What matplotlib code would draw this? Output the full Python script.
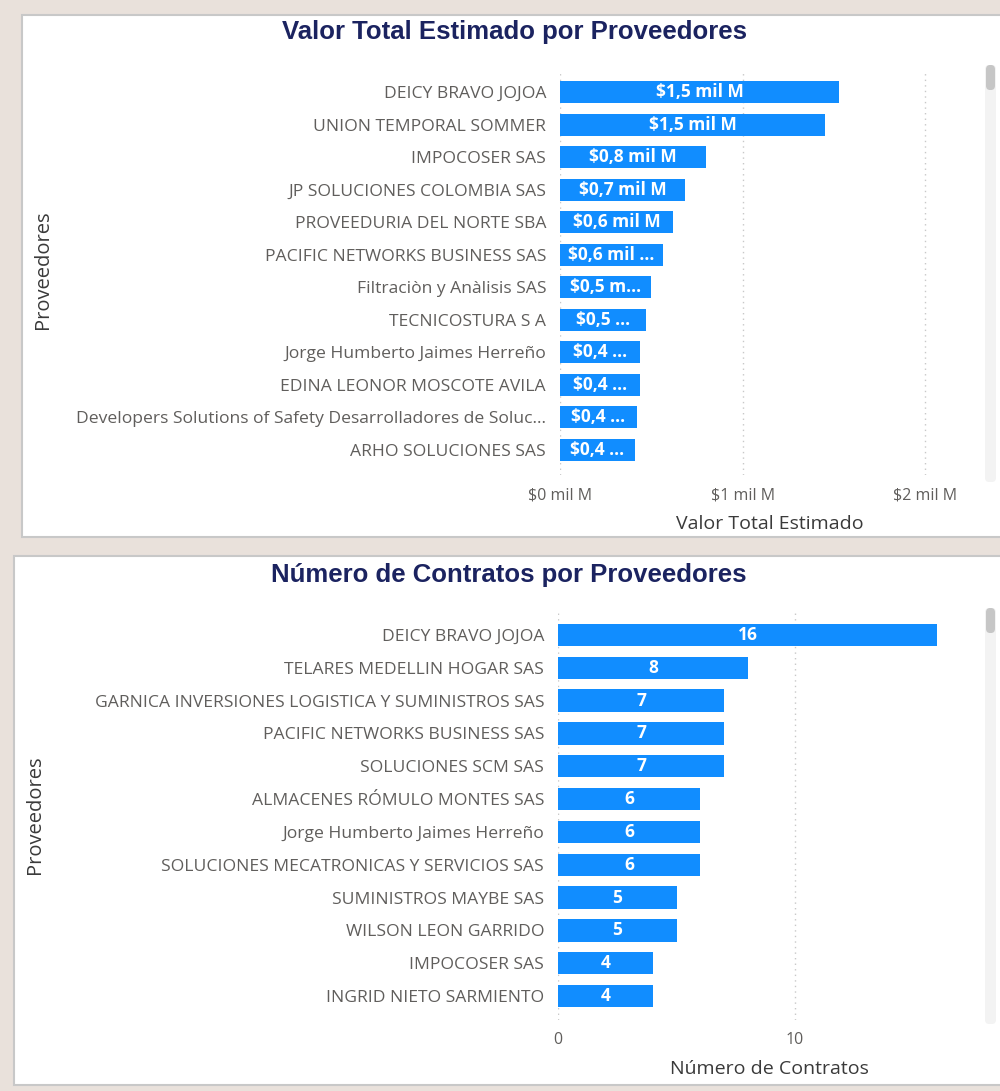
# -*- coding: utf-8 -*-
# Dos gráficos de barras horizontales estilo Power BI
import matplotlib.pyplot as plt
from matplotlib.patches import Rectangle, FancyBboxPatch

# Datos del primer gráfico (valor en miles de millones)
proveedoresValor = ['DEICY BRAVO JOJOA', 'UNION TEMPORAL SOMMER', 'IMPOCOSER SAS',
                    'JP SOLUCIONES COLOMBIA SAS', 'PROVEEDURIA DEL NORTE SBA',
                    'PACIFIC NETWORKS BUSINESS SAS', 'Filtraciòn y Anàlisis SAS',
                    'TECNICOSTURA S A', 'Jorge Humberto Jaimes Herreño',
                    'EDINA LEONOR MOSCOTE AVILA',
                    'Developers Solutions of Safety Desarrolladores de Soluc...',
                    'ARHO SOLUCIONES SAS']
valorTotal = [1.53, 1.45, 0.80, 0.685, 0.62, 0.565, 0.50, 0.47, 0.44, 0.44, 0.42, 0.41]
etiquetasValor = ['$1,5 mil M', '$1,5 mil M', '$0,8 mil M', '$0,7 mil M', '$0,6 mil M',
                  '$0,6 mil ...', '$0,5 m...', '$0,5 ...', '$0,4 ...', '$0,4 ...',
                  '$0,4 ...', '$0,4 ...']
ticksValor = [0, 1, 2]
ticksValorTxt = ['$0 mil M', '$1 mil M', '$2 mil M']

# Datos del segundo gráfico
proveedoresNum = ['DEICY BRAVO JOJOA', 'TELARES MEDELLIN HOGAR SAS',
                  'GARNICA INVERSIONES LOGISTICA Y SUMINISTROS SAS',
                  'PACIFIC NETWORKS BUSINESS SAS', 'SOLUCIONES SCM SAS',
                  'ALMACENES RÓMULO MONTES SAS', 'Jorge Humberto Jaimes Herreño',
                  'SOLUCIONES MECATRONICAS Y SERVICIOS SAS', 'SUMINISTROS MAYBE SAS',
                  'WILSON LEON GARRIDO', 'IMPOCOSER SAS', 'INGRID NIETO SARMIENTO']
numContratos = [16, 8, 7, 7, 7, 6, 6, 6, 5, 5, 4, 4]
ticksNum = [0, 10]

W, H = 1000, 1091
AZUL = '#118dff'
GRIS = '#605e5c'
TITULO = '#1b2360'
FUENTE = ['Open Sans', 'DejaVu Sans']

fig = plt.figure(figsize=(W / 100, H / 100), dpi=100)
fig.patch.set_facecolor('#e9e1db')


def caja(x0, y0, x1, y1, **kw):
    # rectángulo en píxeles (origen arriba a la izquierda)
    return Rectangle((x0 / W, 1 - y1 / H), (x1 - x0) / W, (y1 - y0) / H,
                     transform=fig.transFigure, zorder=-5, **kw)


def ejes(x0, y0, x1, y1):
    ax = fig.add_axes([x0 / W, 1 - y1 / H, (x1 - x0) / W, (y1 - y0) / H])
    ax.patch.set_alpha(0)
    return ax


def scroll(x0, y0, x1, y1, t1):
    fig.patches.append(FancyBboxPatch((x0 / W, 1 - y1 / H), (x1 - x0) / W, (y1 - y0) / H,
                                      boxstyle='round,pad=0,rounding_size=0.004',
                                      transform=fig.transFigure, facecolor='#f3f3f3',
                                      edgecolor='none'))
    fig.patches.append(FancyBboxPatch((x0 / W + 0.001, 1 - t1 / H), (x1 - x0) / W - 0.002,
                                      (t1 - y0) / H, boxstyle='round,pad=0,rounding_size=0.004',
                                      transform=fig.transFigure, facecolor='#c6c6c6',
                                      edgecolor='none'))


# Paneles blancos
fig.patches.append(caja(22, 15, 1004, 537, facecolor='white', edgecolor='#c8c8c8', linewidth=1.5))
fig.patches.append(caja(14, 556, 1004, 1085, facecolor='white', edgecolor='#c8c8c8', linewidth=1.5))


def barras(ax, nombres, valores, etiquetas, ticks, ticksTxt, xmax, ymin, ymax, xlabel):
    pos = list(range(len(nombres)))
    ax.barh(pos, valores, height=0.68, color=AZUL, zorder=2)
    for p, v, e in zip(pos, valores, etiquetas):
        ax.text(v / 2, p, e, ha='center', va='center', color='white', fontsize=12.5,
                fontweight='bold', family=FUENTE, zorder=3)
    ax.set_yticks(pos)
    ax.set_yticklabels(nombres, family=FUENTE, fontsize=12.6, color=GRIS)
    ax.set_xticks(ticks)
    ax.set_xticklabels(ticksTxt, family=FUENTE, fontsize=11.5, color=GRIS)
    ax.set_xlim(0, xmax)
    ax.set_ylim(ymin, ymax)
    ax.tick_params(length=0, pad=10)
    ax.tick_params(axis='x', pad=9)
    ax.grid(axis='x', linestyle=(0, (1, 3)), color='#c8c8c8', linewidth=1, zorder=0)
    for s in ax.spines.values():
        s.set_visible(False)
    ax.set_xlabel(xlabel, family=FUENTE, fontsize=14, color='#3a3a3a', labelpad=8)


# Gráfico 1
ax1 = ejes(560, 70, 980, 475)
barras(ax1, proveedoresValor, valorTotal, etiquetasValor, ticksValor, ticksValorTxt,
       2.3, 11.77, -0.68, 'Valor Total Estimado')
fig.text(514 / W, 1 - 32 / H, 'Valor Total Estimado por Proveedores', ha='center',
         va='center', fontsize=18.5, fontweight='bold', color=TITULO,
         family=['Liberation Sans Narrow', 'Liberation Sans'])
fig.text(43 / W, 1 - 270 / H, 'Proveedores', rotation=90, ha='center', va='center',
         fontsize=14.5, color='#3a3a3a', family=FUENTE)
scroll(985, 65, 996, 482, 90)

# Gráfico 2
ax2 = ejes(558, 612, 980, 1020)
barras(ax2, proveedoresNum, numContratos, [str(n) for n in numContratos], ticksNum,
       [str(t) for t in ticksNum], 17.8, 11.73, -0.7, 'Número de Contratos')
fig.text(509 / W, 1 - 575 / H, 'Número de Contratos por Proveedores', ha='center',
         va='center', fontsize=18.5, fontweight='bold', color=TITULO,
         family=['Liberation Sans Narrow', 'Liberation Sans'])
fig.text(35 / W, 1 - 815 / H, 'Proveedores', rotation=90, ha='center', va='center',
         fontsize=14.5, color='#3a3a3a', family=FUENTE)
scroll(985, 608, 996, 1024, 633)

fig.savefig('out.png', dpi=100, facecolor=fig.get_facecolor())
